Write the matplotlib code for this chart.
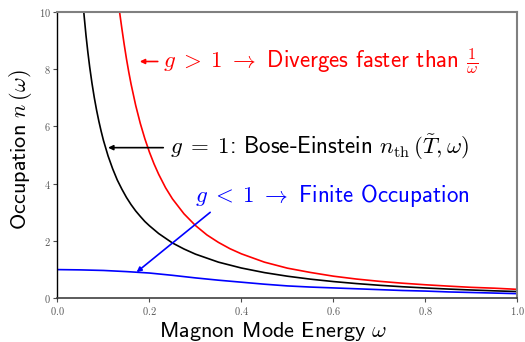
import matplotlib
matplotlib.use("Agg")
import matplotlib.pyplot as plt
import matplotlib.ticker as ticker

plt.rcParams['font.family'] = ['cmss10', 'DejaVu Sans']
plt.rcParams['mathtext.fontset'] = 'cm'
plt.rcParams['axes.unicode_minus'] = False

# occupation curves, read along omega
w_red = [0.13, 0.135, 0.14, 0.145, 0.15, 0.155, 0.16, 0.17, 0.18, 0.19, 0.20, 0.21, 0.22, 0.235, 0.25,
         0.275, 0.30, 0.325, 0.35, 0.375, 0.40, 0.45, 0.50, 0.55, 0.60, 0.65, 0.70, 0.75, 0.80, 0.85, 0.90, 0.95, 1.00]
n_red = [10.7, 10.0, 9.42, 8.87, 8.36, 7.90, 7.48, 6.74, 6.11, 5.57, 5.10, 4.69, 4.33, 3.86, 3.47,
         2.95, 2.54, 2.21, 1.95, 1.73, 1.55, 1.26, 1.05, 0.90, 0.77, 0.67, 0.59, 0.525, 0.47, 0.423, 0.38, 0.35, 0.31]

w_black = [0.052, 0.055, 0.058, 0.062, 0.066, 0.07, 0.075, 0.08, 0.085, 0.09, 0.095, 0.10, 0.11, 0.12, 0.13,
           0.14, 0.15, 0.16, 0.17, 0.18, 0.19, 0.20, 0.22, 0.25, 0.275, 0.30, 0.35, 0.40, 0.45, 0.50,
           0.55, 0.60, 0.65, 0.70, 0.75, 0.80, 0.85, 0.90, 0.95, 1.00]
n_black = [11.05, 10.4, 9.85, 9.18, 8.60, 8.08, 7.51, 7.01, 6.57, 6.18, 5.83, 5.51, 4.97, 4.52, 4.13,
           3.81, 3.52, 3.27, 3.05, 2.86, 2.68, 2.53, 2.26, 1.93, 1.72, 1.54, 1.26, 1.055, 0.895, 0.769,
           0.666, 0.582, 0.512, 0.452, 0.401, 0.358, 0.320, 0.287, 0.258, 0.233]

w_blue = [0.0, 0.05, 0.10, 0.15, 0.20, 0.25, 0.30, 0.35, 0.40, 0.45, 0.50,
          0.55, 0.60, 0.65, 0.70, 0.75, 0.80, 0.85, 0.90, 0.95, 1.00]
n_blue = [1.00, 0.99, 0.97, 0.93, 0.88, 0.80, 0.71, 0.63, 0.56, 0.49, 0.43,
          0.39, 0.36, 0.33, 0.30, 0.27, 0.25, 0.22, 0.20, 0.18, 0.16]

fig = plt.figure(figsize=(5.25, 3.42), dpi=100)
ax = fig.add_axes([0.1095, 0.128, 0.876, 0.837])

ax.plot(w_red, n_red, color='#ff0000', lw=1.2)
ax.plot(w_black, n_black, color='black', lw=1.2)
ax.plot(w_blue, n_blue, color='#0000ff', lw=1.2)

ax.set_xlim(0, 1)
ax.set_ylim(0, 10)
ax.set_xticks([0.0, 0.2, 0.4, 0.6, 0.8, 1.0])
ax.set_yticks([0, 2, 4, 6, 8, 10])
ax.xaxis.set_major_formatter(ticker.FuncFormatter(lambda v, p: f'${v:.1f}$'))
ax.yaxis.set_major_formatter(ticker.FuncFormatter(lambda v, p: f'${v:.0f}$'))
ax.tick_params(labelsize=7.5, length=3, width=0.8, colors='0.3', labelcolor='0.35', pad=2)

ax.spines['top'].set_color('0.5')
ax.spines['right'].set_color('0.5')
ax.spines['top'].set_linewidth(1.5)
ax.spines['right'].set_linewidth(1.5)
ax.spines['left'].set_linewidth(1.0)
ax.spines['bottom'].set_color('0.25')
ax.spines['bottom'].set_linewidth(1.2)

ax.set_xlabel(r'Magnon Mode Energy $\omega$', fontsize=16)
ax.set_ylabel(r'Occupation $n\,(\omega)$', fontsize=16)
ax.xaxis.set_label_coords(0.47, -0.075)
ax.yaxis.set_label_coords(-0.05, 0.52)

arrow = dict(arrowstyle='-|>', lw=1.2, mutation_scale=7, shrinkA=0, shrinkB=0)

# g > 1
ax.annotate('', xy=(0.179, 8.27), xytext=(0.218, 8.27),
            arrowprops=dict(arrow, color='#ff0000'))
ax.text(0.23, 8.27, r'$g\;>\;1\;\rightarrow$ Diverges faster than $\frac{1}{\omega}$',
        color='#ff0000', fontsize=16.5, ha='left', va='center')

# g = 1
ax.annotate('', xy=(0.110, 5.26), xytext=(0.230, 5.26),
            arrowprops=dict(arrow, color='black'))
ax.text(0.245, 5.26, r'$g\;=\;1$: Bose-Einstein $n_{\mathrm{th}}\,(\tilde{T},\omega)$',
        color='black', fontsize=16.5, ha='left', va='center')

# g < 1
ax.annotate('', xy=(0.172, 0.91), xytext=(0.332, 3.0),
            arrowprops=dict(arrow, color='#0000ff'))
ax.text(0.30, 3.58, r'$g\;<\;1\;\rightarrow$ Finite Occupation',
        color='#0000ff', fontsize=16.5, ha='left', va='center')

fig.savefig('out.png', dpi=100)
